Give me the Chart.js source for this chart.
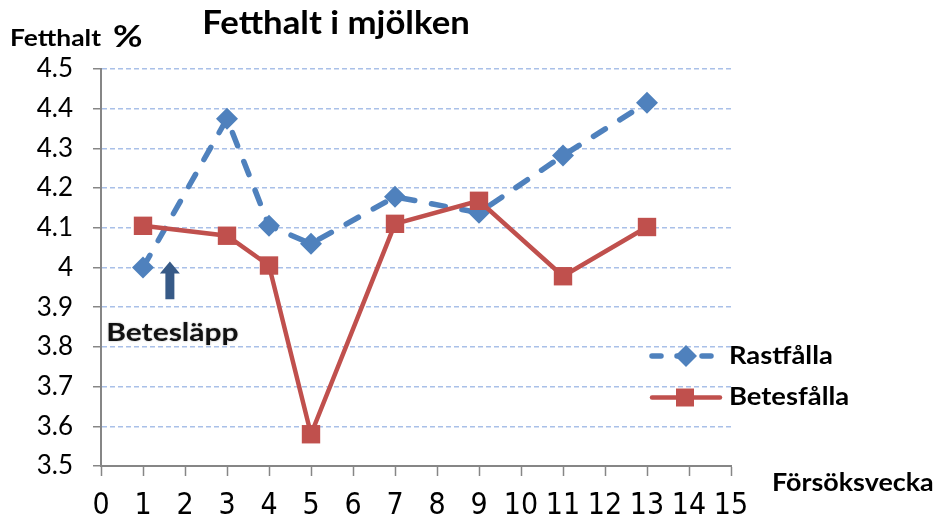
<!doctype html>
<html>
  <head>
    <script src="https://cdn.jsdelivr.net/npm/chart.js"></script>
    <meta name="viewport" content="width=device-width, initial-scale=1" />
    <style>
      html, body { margin: 0; padding: 0; background: #fff; }
      #wrap { width: 934px; height: 519px; }
    </style>
  </head>
  <body>
    <div id="wrap"><canvas id="fatChart" width="934" height="519"></canvas></div>
    <script>
      // Försöksvecka (weeks) and fat content (%)
      const weeks = [1, 3, 4, 5, 7, 9, 11, 13];
      const rastfalla = [4.0, 4.375, 4.105, 4.06, 4.178, 4.138, 4.282, 4.415];
      const betesfalla = [4.105, 4.08, 4.005, 3.58, 4.11, 4.168, 3.978, 4.102];
      const xTicks = { min: 0, max: 15, step: 1 };
      const yTicks = { min: 3.5, max: 4.5, step: 0.1 };
      // "Betesläpp" note: arrow at week 1.65
      const note = { text: "Betesläpp", x: 1.64, yFrom: 3.92, yTo: 4.015, textX: 1.7, textY: 3.835 };

      const blue = "#4f81bd";
      const red = "#c0504d";
      const axisGrey = "#868686";

      const toXY = (ys) => weeks.map((w, i) => ({ x: w, y: ys[i] }));

      // text looks a little wider than the font in the original picture
      function wideText(c, txt, x, y, font, stretch, align) {
        c.save();
        c.font = font;
        c.textBaseline = "middle";
        c.textAlign = "left";
        const w = c.measureText(txt).width * stretch;
        let left = x;
        if (align === "center") left = x - w / 2;
        c.translate(left, y);
        c.scale(stretch, 1);
        c.fillText(txt, 0, 0);
        c.restore();
      }

      const extras = {
        id: "extras",
        afterDraw(chart) {
          const c = chart.ctx;
          const xs = chart.scales.x, ys = chart.scales.y;
          c.save();
          c.fillStyle = "#000";
          wideText(c, "Fetthalt i mjölken", 336, 24, "bold 32px Lato", 1.085, "center");
          wideText(c, "Fetthalt", 10, 39, "bold 22px Lato", 1.2);
          wideText(c, "%", 113, 37, "bold 30px Lato", 1.2);
          wideText(c, "Försöksvecka", 772, 483, "bold 24px Lato", 1.12);

          // arrow
          const ax = xs.getPixelForValue(note.x);
          const y0 = ys.getPixelForValue(note.yFrom);
          const y1 = ys.getPixelForValue(note.yTo);
          c.fillStyle = "#375a87";
          c.beginPath();
          c.moveTo(ax - 4.5, y0);
          c.lineTo(ax - 4.5, y1 + 12);
          c.lineTo(ax - 10, y1 + 12);
          c.lineTo(ax, y1);
          c.lineTo(ax + 10, y1 + 12);
          c.lineTo(ax + 4.5, y1 + 12);
          c.lineTo(ax + 4.5, y0);
          c.closePath();
          c.fill();
          c.fillStyle = "#111";
          c.shadowColor = "rgba(0,0,0,0.35)";
          c.shadowBlur = 2;
          wideText(c, note.text, xs.getPixelForValue(note.textX), ys.getPixelForValue(note.textY), "bold 24px Lato", 1.25, "center");
          c.shadowBlur = 0;

          // legend
          const rows = [356, 397.5];
          chart.data.datasets.forEach((ds) => {
            const ly = rows[ds.legendRow];
            c.save();
            c.strokeStyle = ds.borderColor;
            c.lineWidth = ds.borderWidth;
            c.lineCap = "round";
            c.setLineDash(ds.legendDash || []);
            c.beginPath();
            c.moveTo(652, ly);
            c.lineTo(ds.legendDash ? 714 : 720, ly);
            c.stroke();
            c.restore();
            c.fillStyle = ds.pointBackgroundColor;
            c.beginPath();
            if (ds.pointStyle === "rectRot") {
              c.moveTo(686, ly - 11);
              c.lineTo(697, ly);
              c.lineTo(686, ly + 11);
              c.lineTo(675, ly);
            } else {
              c.rect(676, ly - 9, 18, 18);
            }
            c.closePath();
            c.fill();
            c.fillStyle = "#000";
            wideText(c, ds.label, 729, ly, "bold 24px Lato", 1.14);
          });
          c.restore();
        },
      };

      new Chart(document.getElementById("fatChart"), {
        type: "line",
        data: {
          datasets: [
            {
              label: "Betesfålla",
              legendRow: 1,
              data: toXY(betesfalla),
              borderColor: red,
              backgroundColor: red,
              borderWidth: 4.5,
              pointStyle: "rect",
              pointRadius: 13,
              pointBackgroundColor: red,
              pointBorderWidth: 0,
              order: 0,
            },
            {
              label: "Rastfålla",
              legendRow: 0,
              legendDash: [9, 16],
              data: toXY(rastfalla),
              borderColor: blue,
              backgroundColor: blue,
              borderWidth: 5.5,
              borderDash: [14, 17],
              borderCapStyle: "round",
              pointStyle: "rectRot",
              pointRadius: 11,
              pointBackgroundColor: blue,
              pointBorderWidth: 0,
              order: 1,
            },
          ],
        },
        options: {
          responsive: false,
          animation: false,
          layout: { padding: { left: 0, top: 69, right: 203, bottom: 0 } },
          plugins: { legend: { display: false }, title: { display: false }, tooltip: { enabled: false } },
          scales: {
            x: {
              type: "linear",
              min: xTicks.min,
              max: xTicks.max,
              ticks: { stepSize: xTicks.step, padding: 12, color: "#000", font: { family: "Liberation Sans Narrow, DejaVu Sans Condensed", size: 30 } },
              grid: { drawOnChartArea: false, tickLength: 10, tickColor: axisGrey, tickWidth: 1.5 },
              border: { color: axisGrey, width: 2 },
              afterFit(s) { s.height = 53; },
            },
            y: {
              min: yTicks.min,
              max: yTicks.max,
              ticks: {
                stepSize: yTicks.step,
                padding: 20,
                color: "#000",
                font: { family: "Lato", size: 26 },
                callback: (v) => Number(v.toFixed(1)).toString(),
              },
              grid: { color: "#a9c0e8", lineWidth: 1.5, tickLength: 8, tickColor: axisGrey, tickWidth: 1.5, tickBorderDash: [0, 0] },
              border: { color: axisGrey, width: 2, dash: [5, 3] },
              afterFit(s) { s.width = 101; },
            },
          },
        },
        plugins: [extras],
      });
    </script>
  </body>
</html>
